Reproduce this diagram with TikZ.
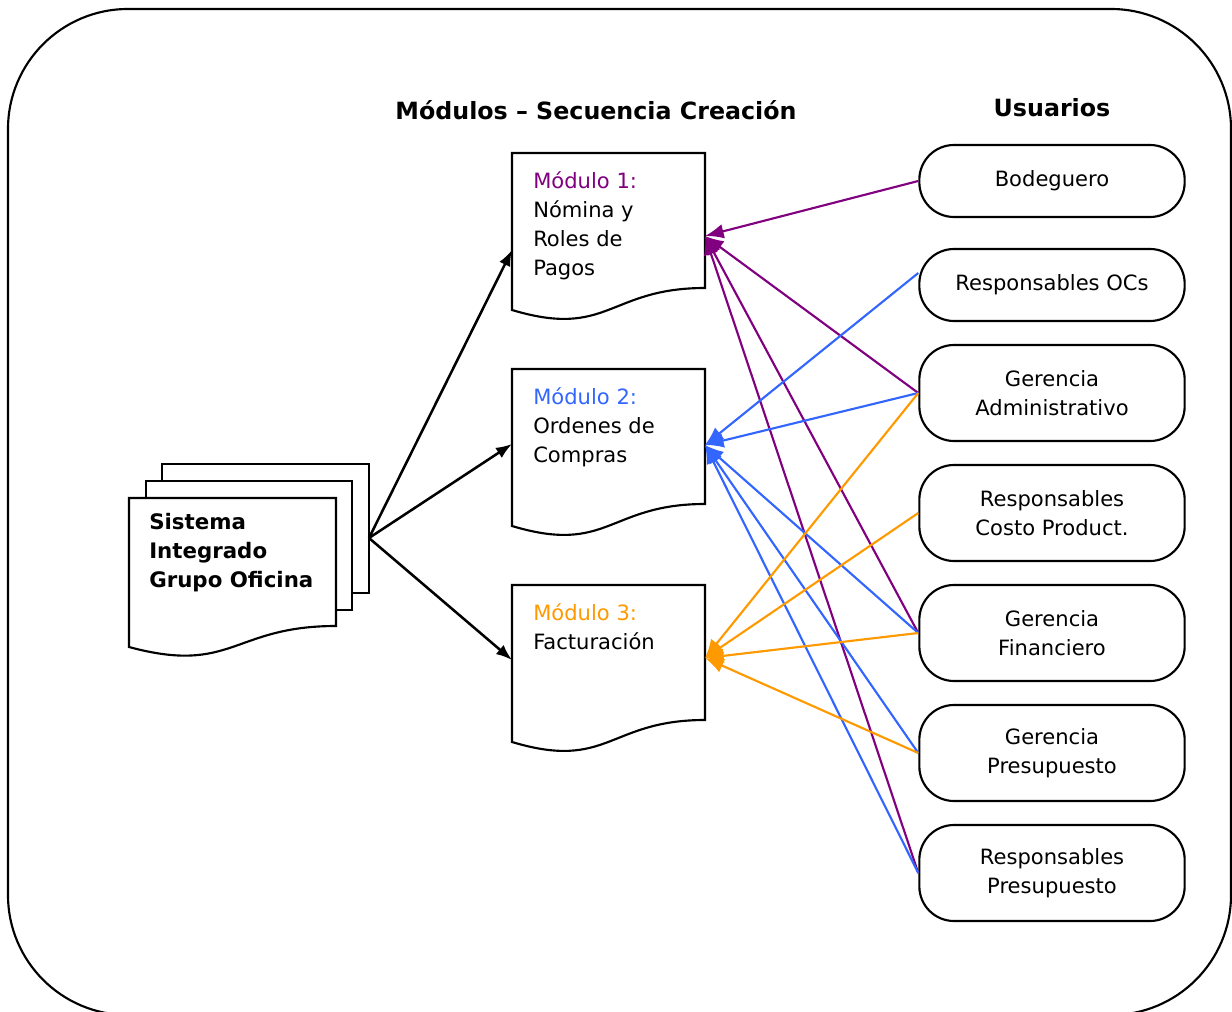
\documentclass[tikz,border=0pt]{standalone}
\usepackage{fontspec}
\setmainfont{DejaVu Sans}
\usepackage{tikz}
\usetikzlibrary{arrows.meta}
\definecolor{modpurple}{RGB}{128,0,128}
\definecolor{modblue}{RGB}{51,102,255}
\definecolor{modorange}{RGB}{255,153,0}

\begin{document}
\begin{tikzpicture}[x=0.75pt,y=-0.75pt,
modtext/.style={anchor=north west,align=left,inner sep=0pt,font=\fontsize{15.8}{21.75}\selectfont},
user/.style={draw,line width=1.6pt,rounded corners=26pt,minimum width=199pt,align=center,inner sep=0pt,font=\fontsize{15.8}{21.75}\selectfont},
link/.style={line width=1.6pt,-{Latex[length=14pt,width=11pt]}}]

\useasboundingbox (0,0) rectangle (1232,1012);
\draw[line width=1.6pt,rounded corners=90pt] (8,9) rectangle (1231,1015);

% titles
\node[font=\bfseries\fontsize{17.8}{20}\selectfont] (ttlmod) at (596,110) {Módulos -- Secuencia Creación};
\node[font=\bfseries\fontsize{17.8}{20}\selectfont] (ttlusr) at (1052,108) {Usuarios};

% sistema (three stacked pages)
\draw[line width=1.6pt,fill=white] (162,464) rectangle (369,593);
\draw[line width=1.6pt,fill=white] (146,481) rectangle (352,610);
\draw[line width=1.6pt,fill=white] (129,498) -- (336,498) -- (336,626) .. controls (232.5,626) and (232.5,675) .. (129,647) -- cycle;
\node[modtext,font=\bfseries\fontsize{16}{21.75}\selectfont] (sist) at (149,513) {Sistema\\Integrado\\Grupo Oficina};

% modulos
\foreach \t in {153,369,585}
{
\draw[line width=1.6pt] (512,\t) -- (705,\t) -- (705,\t+135) .. controls (608.5,\t+135) and (608.5,\t+186) .. (512,\t+157) -- cycle;
}
\node[modtext] (mod1) at (533,171) {\textcolor{modpurple}{Módulo 1:}\\Nómina y\\Roles de\\Pagos};
\node[modtext] (mod2) at (533,387) {\textcolor{modblue}{Módulo 2:}\\Ordenes de\\Compras};
\node[modtext] (mod3) at (533,603) {\textcolor{modorange}{Módulo 3:}\\Facturación};

\coordinate (sis) at (369,538);
\coordinate (m1l) at (512,250);
\coordinate (m2l) at (512,444);
\coordinate (m3l) at (512,660);
\coordinate (m1r) at (705,236);
\coordinate (m2r) at (705,445);
\coordinate (m3r) at (705,658);

% usuarios
\node[user,minimum height=54pt] (bod) at (1052,181) {Bodeguero};
\node[user,minimum height=54pt] (ocs) at (1052,285) {Responsables OCs};
\node[user,minimum height=72pt] (gadm) at (1052,393) {Gerencia\\Administrativo};
\node[user,minimum height=72pt] (rcos) at (1052,513) {Responsables\\Costo Product.};
\node[user,minimum height=72pt] (gfin) at (1052,633) {Gerencia\\Financiero};
\node[user,minimum height=72pt] (gpre) at (1052,753) {Gerencia\\Presupuesto};
\node[user,minimum height=72pt] (rpre) at (1052,873) {Responsables\\Presupuesto};

\draw[line width=1.9pt,-{Latex[length=12pt,width=9pt]}] (sis) -- (m1l);
\draw[line width=1.9pt,-{Latex[length=12pt,width=9pt]}] (sis) -- (m2l);
\draw[line width=1.9pt,-{Latex[length=12pt,width=9pt]}] (sis) -- (m3l);

\foreach \u in {bod,gadm,gfin,rpre}
\draw[link,modpurple] (\u.west) -- (m1r);
\draw[link,modblue] ([yshift=9pt]ocs.west) -- (m2r);
\foreach \u in {gadm,gfin,gpre,rpre}
\draw[link,modblue] (\u.west) -- (m2r);
\foreach \u in {gadm,rcos,gfin,gpre}
\draw[link,modorange] (\u.west) -- (m3r);
\end{tikzpicture}
\end{document}
